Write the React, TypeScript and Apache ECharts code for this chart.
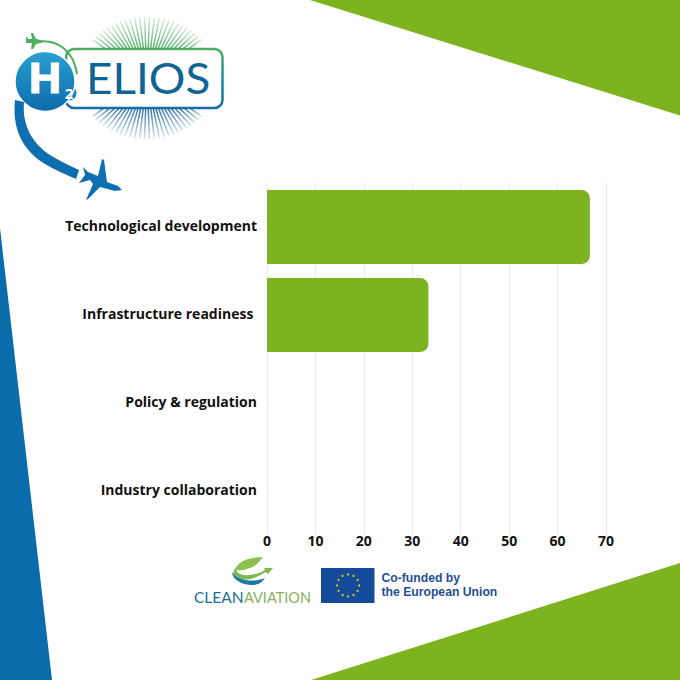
import React, { useEffect, useRef } from "react";
import * as echarts from "echarts";

const categories = ["Technological development", "Infrastructure readiness ", "Policy & regulation", "Industry collaboration"];
const shares = [66.67, 33.33, 0, 0];
const GREEN = "#7cb31e";
const BLUE = "#0a6cab";

echarts.graphic.registerShape("swoosh", echarts.graphic.extendPath("M15 100 C12 128 22 150 45 164 C55 170 65 174 76 179 L79 170 C68 165 58 160 50 155 C32 143 22 125 24 102 Z", {}));
echarts.graphic.registerShape("caLeaf", echarts.graphic.extendPath("M236 570 C236 562 248 557 263 557 C259 562 256 566 250 568 C244 570 240 571 236 570 Z", {}));
echarts.graphic.registerShape("caArcA", echarts.graphic.extendPath("M238 566 C227 573 238 582 250 579 C256 578 262 574 266 572 L268 574 L273 568 L264 568 L265 570 C258 574 250 576 244 575 C238 574 234 571 238 566 Z", {}));
echarts.graphic.registerShape("caArcB", echarts.graphic.extendPath("M232 572 C232 580 244 586 254 585 C260 584 262 582 265 578 C256 582 238 582 232 572 Z", {}));

function rays(): any[] {
  const out: any[] = [];
  const cx = 147, cy = 78;
  for (let i = 0; i < 88; i++) {
    const a = (i / 88) * Math.PI * 2 + 0.036;
    const s = Math.sin(a), c = Math.cos(a);
    const ex = cx + c * 70, ey = cy + s * 61;
    if (Math.abs(ex - cx) > 57) continue;
    const top = s < 0;
    const boxY = top ? 49 : 108;
    const t = (boxY - cy) / (ey - cy);
    const sx = cx + (ex - cx) * t;
    out.push({
      type: "line",
      shape: { x1: sx, y1: boxY, x2: ex, y2: ey },
      style: {
        lineWidth: 1.5,
        stroke: {
          type: "linear", x: sx, y: boxY, x2: ex, y2: ey, global: true,
          colorStops: top
            ? [{ offset: 0, color: "#4fb06a" }, { offset: 1, color: "#dceedd" }]
            : [{ offset: 0, color: "#2b6f9f" }, { offset: 1, color: "#d8e6ef" }],
        },
      },
    });
  }
  return out;
}

function euStars(): any[] {
  const out: any[] = [];
  for (let i = 0; i < 12; i++) {
    const a = (i / 12) * Math.PI * 2;
    out.push({ type: "circle", shape: { cx: 348 + Math.cos(a) * 11, cy: 585.5 + Math.sin(a) * 11, r: 1 }, style: { fill: "#f5d90a" } });
  }
  return out;
}

const decor: any[] = [
  { type: "polygon", shape: { points: [[310, 0], [680, 0], [680, 115.6]] }, style: { fill: GREEN } },
  { type: "polygon", shape: { points: [[311, 680], [680, 563], [680, 680]] }, style: { fill: GREEN } },
  { type: "polygon", shape: { points: [[0, 228], [52, 680], [0, 680]] }, style: { fill: BLUE } },

  ...rays(),
  { type: "rect", shape: { x: 66, y: 49, width: 156.5, height: 59, r: 8 }, style: { fill: "#fff", lineWidth: 2.5, stroke: { type: "linear", x: 0, y: 49, x2: 0, y2: 108, global: true, colorStops: [{ offset: 0, color: "#4fae5e" }, { offset: 0.5, color: "#1c8c9c" }, { offset: 1, color: "#146ea8" }] } } },
  { type: "text", x: 86, y: 78, scaleX: 1.09, style: { x: 0, y: 0, text: "ELIOS", font: '400 42px "Lato"', fill: "#0f6494", verticalAlign: "middle", textAlign: "left" } },
  { type: "bezierCurve", shape: { x1: 36, y1: 42, cpx1: 58, cpy1: 38, cpx2: 74, cpy2: 52, x2: 77, y2: 74 }, style: { stroke: "#4fae5e", lineWidth: 2, fill: "none" } },
  { type: "polygon", shape: { points: [[43, 41], [37, 39], [36, 39], [33, 33], [31, 33], [32, 39], [28, 39], [26, 36], [26, 43], [32, 43], [31, 49], [33, 49], [36, 44], [41, 43]] }, style: { fill: "#4fae5e" } },
  { type: "circle", shape: { cx: 69, cy: 93, r: 8 }, style: { fill: "#1585bd", stroke: "#fff", lineWidth: 1 } },
  { type: "circle", shape: { cx: 45, cy: 81.5, r: 30 }, style: { fill: { type: "linear", x: 0, y: 0, x2: 0, y2: 1, colorStops: [{ offset: 0, color: "#2aa0d2" }, { offset: 1, color: "#0d6bab" }] }, stroke: "#fff", lineWidth: 1.5 } },
  { type: "text", x: 45, y: 77, scaleX: 1.1, style: { x: 0, y: 0, text: "H", font: '700 41px "Open Sans"', fill: "#fff", stroke: "#fff", lineWidth: 1, textAlign: "center", verticalAlign: "middle" } },
  { type: "text", style: { x: 69, y: 93, text: "2", font: '700 15px "Open Sans"', fill: "#fff", textAlign: "center", verticalAlign: "middle" } },
  { type: "swoosh", style: { fill: "#0e6fb0" } },
  { type: "polygon", shape: { points: [[122, 190], [118, 186], [107, 182], [104, 160], [102, 159], [98, 176], [88, 172], [83, 167], [85, 175], [79, 183], [90, 180], [93, 184], [86, 200], [88, 199], [100, 187], [115, 191]] }, style: { fill: "#0e6fb0" } },

  { type: "caLeaf", style: { fill: "#8cc04f" } },
  { type: "caArcA", style: { fill: "#7cb84a" } },
  { type: "caArcB", style: { fill: "#1c7aa6" } },
  { type: "text", style: { x: 194, y: 597, text: "CLEAN", font: '400 15.5px "Lato"', fill: "#1b6f94", verticalAlign: "middle" } },
  { type: "text", style: { x: 244, y: 597, text: "AVIATION", font: '400 14.5px "Lato"', fill: "#8ab05a", verticalAlign: "middle" } },
  { type: "rect", shape: { x: 321, y: 568, width: 53.5, height: 35 }, style: { fill: "#134a9a" } },
  ...euStars(),
  { type: "text", style: { x: 381.5, y: 578, text: "Co-funded by", font: '700 12.2px "Liberation Sans"', fill: "#1f4f96", verticalAlign: "middle" } },
  { type: "text", style: { x: 381.5, y: 592, text: "the European Union", font: '700 12.2px "Liberation Sans"', fill: "#1f4f96", verticalAlign: "middle" } },
];

export default function App() {
  const ref = useRef<HTMLDivElement>(null);
  useEffect(() => {
    const chart = echarts.init(ref.current!, undefined, { renderer: "svg" });
    chart.setOption({
      animation: false,
      backgroundColor: "#fff",
      grid: { left: 267, right: 74, top: 183, bottom: 145, containLabel: false },
      xAxis: {
        type: "value", min: 0, max: 70, interval: 10,
        axisLine: { show: false }, axisTick: { show: false },
        axisLabel: { margin: -2, color: "#111", fontFamily: "Open Sans", fontWeight: 700, fontSize: 14 },
        splitLine: { lineStyle: { color: "#e9e9e9", width: 1 } },
      },
      yAxis: {
        type: "category", data: categories, inverse: true,
        axisLine: { show: false }, axisTick: { show: false },
        axisLabel: { margin: 10, color: "#111", fontFamily: "Open Sans", fontWeight: 700, fontSize: 14, verticalAlign: "bottom", lineHeight: 4 },
      },
      series: [{
        type: "bar", data: shares, barCategoryGap: "16%",
        itemStyle: { color: GREEN, borderRadius: [0, 8, 8, 0] },
      }],
      graphic: { elements: decor },
    });
    return () => chart.dispose();
  }, []);
  return <div ref={ref} style={{ position: "absolute", left: 0, top: 0, width: 680, height: 680 }} />;
}
